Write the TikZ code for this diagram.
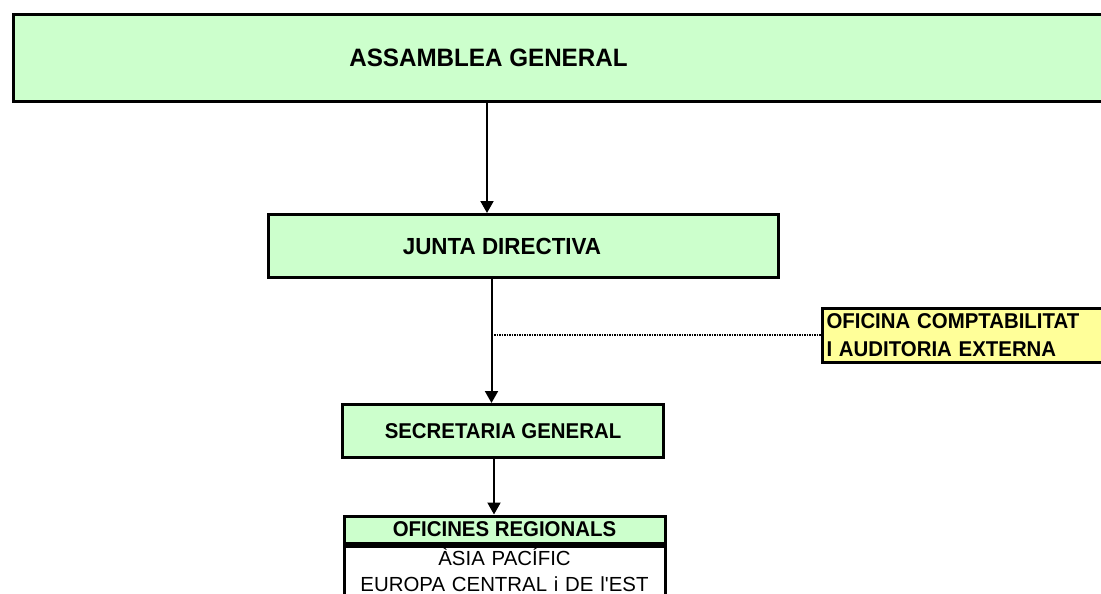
\documentclass[tikz,border=0pt]{standalone}
\usepackage{fontspec}
\setmainfont{Liberation Sans}
\usetikzlibrary{arrows.meta}
\definecolor{boxgreen}{HTML}{CCFFCC}
\definecolor{boxyellow}{HTML}{FFFF99}
\begin{document}
\begin{tikzpicture}[x=1pt,y=-1pt,
  box/.style={draw=black, line width=3pt, fill=boxgreen, inner sep=0pt,
    font=\bfseries\fontsize{20.4}{24}\selectfont},
  arr/.style={line width=2pt, -{Triangle[width=13pt,length=12pt]}},
  dotline/.style={line width=2pt, dash pattern=on 1.5pt off 1pt}]
\useasboundingbox (0,0) rectangle (1101,594);
\clip (0,0) rectangle (1101,594);
% boxes
\node[box, anchor=north west, minimum width=1170pt, minimum height=86.5pt,
  font=\bfseries\fontsize{24.2}{29}\selectfont] (ag) at (11.5,13.5)
  {\raisebox{-2pt}{\scalebox{1}[1.04]{ASSAMBLEA GENERAL}}\hspace*{219pt}};
\node[box, minimum width=510pt, minimum height=63pt,
  font=\bfseries\fontsize{22.4}{27}\selectfont] (jd) at (523.5,246)
  {\scalebox{1}[1.04]{JUNTA DIRECTIVA}\hspace*{43pt}};
\node[box, fill=boxyellow, anchor=north west, text width=300pt, inner xsep=4.5pt,
  minimum height=54pt, align=left,
  font=\bfseries\fontsize{20.4}{28}\selectfont] (ofc) at (820.5,306.5)
  {\scalebox{1}[1.05]{OFICINA COMPTABILITAT}\\\scalebox{1}[1.05]{I AUDITORIA EXTERNA}};
\node[box, minimum width=321pt, minimum height=53pt] (sg) at (503,431)
  {\scalebox{1}[1.05]{SECRETARIA GENERAL}};
\node[box, anchor=north west, minimum width=321pt, minimum height=27pt] (orh) at (342.5,514.5)
  {\scalebox{1}[1.05]{OFICINES REGIONALS}};
\node[box, fill=white, anchor=north, text width=321pt, inner xsep=0pt, inner ysep=1.5pt,
  align=center, text depth=30pt,
  font=\fontsize{20.4}{26}\selectfont] (orb) at (orh.south)
  {ÀSIA PACÍFIC\\EUROPA CENTRAL i DE l\textquotesingle EST};
% connectors
\coordinate (c1) at (487,0);
\coordinate (c2) at (491.5,0);
\coordinate (c3) at (494,0);
\draw[arr] (ag.south -| c1) -- (jd.north -| c1);
\draw[arr] (jd.south -| c2) -- (sg.north -| c2);
\draw[dotline] (c2 |- ofc.west) -- (ofc.west);
\draw[arr] (sg.south -| c3) -- (orh.north -| c3);
\end{tikzpicture}
\end{document}
